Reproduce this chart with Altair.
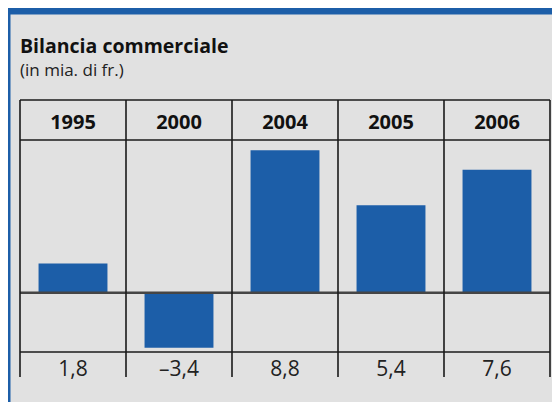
import altair as alt
import pandas as pd

# ---- data ----
years = ["1995", "2000", "2004", "2005", "2006"]
values = [1.8, -3.4, 8.8, 5.4, 7.6]
labels = [f"{v:.1f}".replace(".", ",").replace("-", "\u2013") for v in values]
title_text = "Bilancia commerciale"
subtitle_text = "(in mia. di fr.)"

df = pd.DataFrame({"year": years, "value": values, "label": labels})
df_title = pd.DataFrame({"t": [title_text]})
df_sub = pd.DataFrame({"t": [subtitle_text]})

# ---- style ----
BLUE = "#1c5ea8"
PANEL = "#e1e1e1"
FONT = "Open Sans"
LINE = "#1a1a1a"

xscale = alt.Scale(domain=years, range=[10, 540], paddingInner=0, paddingOuter=0)
yscale = alt.Scale(domain=[-3.66, 9.43], range=[338, 126], nice=False, zero=False)

X = alt.X("year:N", scale=xscale, axis=None, sort=years)

bars = alt.Chart(df).mark_bar(color=BLUE, width=alt.RelativeBandSize(0.65)).encode(
    x=X,
    y=alt.Y("value:Q", scale=yscale, axis=None),
    y2=alt.datum(0),
)

zero = alt.Chart(df_title).mark_rule(color="#454545", strokeWidth=2.5).encode(
    y=alt.datum(0), x=alt.value(10), x2=alt.value(540)
)

hlines = [
    alt.Chart(df_title).mark_rule(color=LINE, strokeWidth=1.6).encode(
        y=alt.value(yv), x=alt.value(10), x2=alt.value(540)
    )
    for yv in (86, 126, 338)
]

vlines = alt.Chart(df).mark_rule(color=LINE, strokeWidth=1.6).encode(
    x=alt.X("year:N", scale=xscale, axis=None, sort=years, bandPosition=0),
    y=alt.value(86),
    y2=alt.value(363),
)
vlast = alt.Chart(df).transform_filter(alt.datum.year == years[-1]).mark_rule(
    color=LINE, strokeWidth=1.6
).encode(
    x=alt.X("year:N", scale=xscale, axis=None, sort=years, bandPosition=1),
    y=alt.value(86),
    y2=alt.value(363),
)

header = alt.Chart(df).mark_text(
    font=FONT, fontSize=20, fontWeight="bold", color="#111111", baseline="alphabetic"
).encode(x=X, y=alt.value(114.5), text="year:N")

footer = alt.Chart(df).mark_text(
    font=FONT, fontSize=21, color="#222222", baseline="alphabetic"
).encode(x=X, y=alt.value(362), text="label:N")

title = alt.Chart(df_title).mark_text(
    font=FONT, fontSize=19.5, fontWeight="bold", color="#111111", align="left", baseline="alphabetic"
).encode(x=alt.value(10), y=alt.value(38.7), text="t:N")

subtitle = alt.Chart(df_sub).mark_text(
    font=FONT, fontSize=17, color="#222222", align="left", baseline="alphabetic"
).encode(x=alt.value(10), y=alt.value(62), text="t:N")

chart = alt.layer(
    bars, zero, *hlines, vlines, vlast, header, footer, title, subtitle
).properties(
    width=542,
    height=394,
    background=BLUE,
    padding={"left": 2, "top": 6, "right": 0, "bottom": 0},
    autosize=alt.AutoSizeParams(type="none"),
).configure_view(fill=PANEL, stroke="transparent")

chart.save("out.html", embed_options={"renderer": "svg", "actions": False})
